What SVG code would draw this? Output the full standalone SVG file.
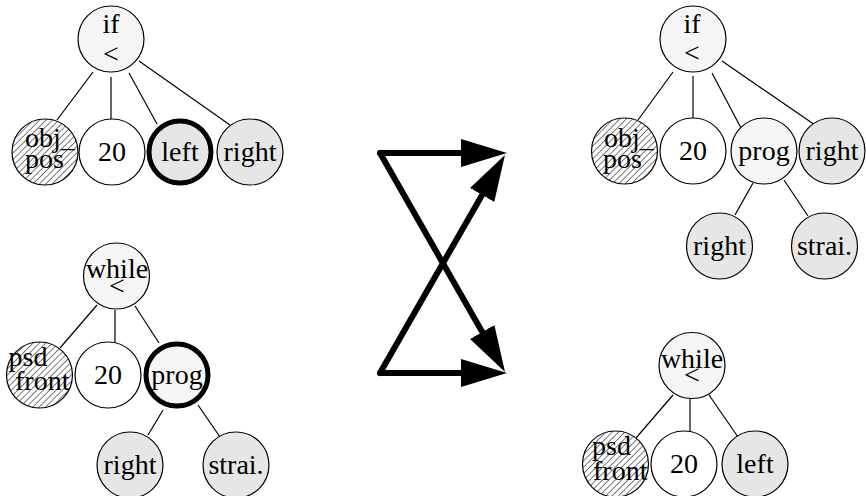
<svg xmlns="http://www.w3.org/2000/svg" width="866" height="496" viewBox="0 0 866 496">
<style>
.n{stroke:#000;stroke-width:1.2}
.root{fill:#f5f5f5}
.white{fill:#fff}
.leaf{fill:#e6e6e6}
.mid{fill:#f5f5f5}
.hat{fill:url(#hatch)}
.sel{stroke-width:5}
text{font-family:'Liberation Serif','Times New Roman','DejaVu Serif',serif;font-size:28px;fill:#000}
.c{text-anchor:middle}
.e line{stroke:#000;stroke-width:1.2}
.arr line{stroke:#000;stroke-width:6;stroke-linecap:round}
</style>
<defs>
<pattern id="hatch" patternUnits="userSpaceOnUse" width="4.5" height="4.5" patternTransform="rotate(45)">
<rect width="4.5" height="4.5" fill="#fff"/>
<line x1="0" y1="0" x2="0" y2="4.5" stroke="#222" stroke-width="1.2"/>
</pattern>
<marker id="ah" markerUnits="userSpaceOnUse" markerWidth="46" markerHeight="28" refX="26" refY="14" orient="auto">
<path d="M0,0 L46,14 L0,28 z" fill="#000"/>
</marker>
</defs>
<g id="connectors">
<g class="e">
<line x1="93" y1="72" x2="57" y2="120"/>
<line x1="111" y1="77" x2="111" y2="119"/>
<line x1="129" y1="73" x2="157" y2="124"/>
<line x1="139" y1="61" x2="230" y2="125"/>
<line x1="97" y1="305" x2="60" y2="348"/>
<line x1="115" y1="310" x2="115" y2="342"/>
<line x1="135" y1="306" x2="159" y2="343"/>
<line x1="163" y1="410" x2="148" y2="435"/>
<line x1="198" y1="405" x2="220" y2="437"/>
<line x1="673" y1="72" x2="638" y2="120"/>
<line x1="693" y1="76" x2="693" y2="118"/>
<line x1="712" y1="73" x2="741" y2="128"/>
<line x1="722" y1="61" x2="815" y2="125"/>
<line x1="753" y1="183" x2="735" y2="215"/>
<line x1="784" y1="180" x2="808" y2="216"/>
<line x1="673" y1="395" x2="636" y2="438"/>
<line x1="690" y1="399" x2="690" y2="432"/>
<line x1="709" y1="395" x2="738" y2="437"/>
</g>
<g class="arr">
<line x1="380" y1="153" x2="487" y2="153" marker-end="url(#ah)"/>
<line x1="380" y1="153" x2="495.1" y2="354.6" marker-end="url(#ah)"/>
<line x1="380" y1="373" x2="487" y2="373" marker-end="url(#ah)"/>
<line x1="380" y1="373" x2="495" y2="172.4" marker-end="url(#ah)"/>
</g>
</g>
<!-- top-left tree -->
<g id="tl-root"><circle class="n root" cx="111" cy="39" r="33"/><text class="c" x="111" y="33">if</text><text class="c" x="111" y="63">&lt;</text></g>
<g id="tl-objpos"><circle class="n hat" cx="45" cy="152" r="33"/><text x="25" y="147">obj_</text><text x="25" y="168">pos</text></g>
<g id="tl-20"><circle class="n white" cx="112" cy="152" r="33"/><text class="c" x="112" y="161">20</text></g>
<g id="tl-left"><circle class="n leaf sel" cx="180" cy="152" r="31"/><text class="c" x="180" y="161">left</text></g>
<g id="tl-right"><circle class="n leaf" cx="250" cy="152" r="33"/><text class="c" x="250" y="161">right</text></g>
<!-- bottom-left tree -->
<g id="bl-root"><circle class="n root" cx="116.5" cy="276" r="33"/><text class="c" x="117" y="278">while</text><text class="c" x="117" y="295">&lt;</text></g>
<g id="bl-psd"><circle class="n hat" cx="39.5" cy="375" r="33"/><text x="8.5" y="366">psd</text><text x="15" y="390">front</text></g>
<g id="bl-20"><circle class="n white" cx="108" cy="375" r="33"/><text class="c" x="108" y="384">20</text></g>
<g id="bl-prog"><circle class="n mid sel" cx="177" cy="375" r="31"/><text class="c" x="177" y="384">prog</text></g>
<g id="bl-right"><circle class="n leaf" cx="130" cy="465" r="33"/><text class="c" x="130" y="474">right</text></g>
<g id="bl-strai"><circle class="n leaf" cx="236" cy="465" r="33"/><text class="c" x="236" y="474">strai.</text></g>
<!-- top-right tree -->
<g id="tr-root"><circle class="n root" cx="693" cy="39" r="33"/><text class="c" x="692" y="33">if</text><text class="c" x="692" y="62">&lt;</text></g>
<g id="tr-objpos"><circle class="n hat" cx="624.5" cy="151" r="33"/><text x="604" y="147">obj_</text><text x="603" y="168">pos</text></g>
<g id="tr-20"><circle class="n white" cx="693" cy="151" r="33"/><text class="c" x="693" y="160">20</text></g>
<g id="tr-prog"><circle class="n mid" cx="764" cy="151" r="33"/><text class="c" x="764" y="160">prog</text></g>
<g id="tr-right"><circle class="n leaf" cx="832" cy="151" r="33"/><text class="c" x="832" y="160">right</text></g>
<g id="tr-right2"><circle class="n leaf" cx="719.5" cy="246" r="33"/><text class="c" x="719.5" y="255">right</text></g>
<g id="tr-strai"><circle class="n leaf" cx="824.5" cy="246" r="33"/><text class="c" x="824.5" y="255">strai.</text></g>
<!-- bottom-right tree -->
<g id="br-root"><circle class="n root" cx="692" cy="365.5" r="33"/><text class="c" x="692" y="368">while</text><text class="c" x="692" y="384">&lt;</text></g>
<g id="br-psd"><circle class="n hat" cx="615.5" cy="464" r="33"/><text x="592" y="455">psd</text><text x="593" y="480">front</text></g>
<g id="br-20"><circle class="n white" cx="684" cy="464" r="33"/><text class="c" x="684" y="473">20</text></g>
<g id="br-left"><circle class="n leaf" cx="755" cy="464" r="33"/><text class="c" x="755" y="473">left</text></g>
</svg>
